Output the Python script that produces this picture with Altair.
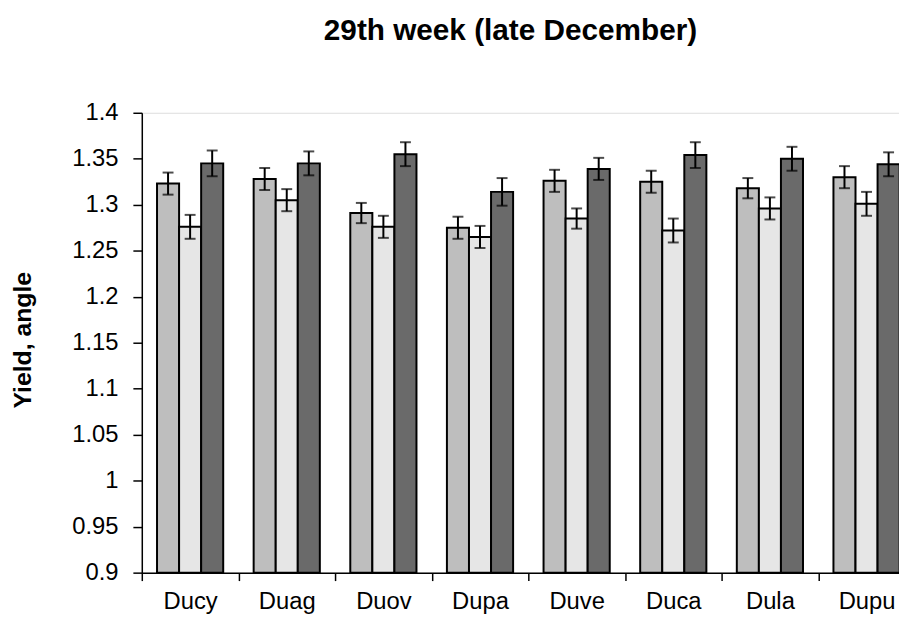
import altair as alt
import pandas as pd

categories = ["Ducy", "Duag", "Duov", "Dupa", "Duve", "Duca", "Dula", "Dupu"]
series = ["S1", "S2", "S3"]
s1_mean = [1.323, 1.328, 1.291, 1.275, 1.326, 1.325, 1.318, 1.330]
s2_mean = [1.276, 1.305, 1.276, 1.265, 1.285, 1.272, 1.296, 1.301]
s3_mean = [1.345, 1.345, 1.355, 1.314, 1.339, 1.354, 1.350, 1.344]
s1_err = [0.012, 0.012, 0.011, 0.012, 0.012, 0.012, 0.011, 0.012]
s2_err = [0.013, 0.012, 0.012, 0.012, 0.011, 0.013, 0.012, 0.013]
s3_err = [0.014, 0.013, 0.013, 0.015, 0.012, 0.014, 0.013, 0.013]
baseline = 0.9
y_ticks = [0.9, 0.95, 1.0, 1.05, 1.1, 1.15, 1.2, 1.25, 1.3, 1.35, 1.4]
fills = ["#bebebe", "#e6e6e6", "#6a6a6a"]

rows = []
for s, means, errs in zip(series, [s1_mean, s2_mean, s3_mean], [s1_err, s2_err, s3_err]):
    for c, m, e in zip(categories, means, errs):
        rows.append({"cat": c, "series": s, "mean": m, "lo": m - e, "hi": m + e, "base": baseline})
df = pd.DataFrame(rows)

FONT = "Liberation Sans"

x = alt.X("cat:N", sort=categories, title=None,
          scale=alt.Scale(range=[0, 780], paddingInner=0, paddingOuter=0),
          axis=alt.Axis(labelAngle=0, tickBand="extent", tickSize=8, tickColor="black",
                        domainColor="black", domainWidth=1.5, tickWidth=1.5,
                        labelFont=FONT, labelFontSize=24, labelColor="black", labelPadding=9))
xo = alt.XOffset("series:N", sort=series,
                 scale=alt.Scale(paddingOuter=0.69, paddingInner=0))
yscale = alt.Scale(domain=[0.9, 1.4], zero=False, nice=False)

base = alt.Chart(df)

bars = base.mark_bar(stroke="black", strokeWidth=2).encode(
    x=x, xOffset=xo,
    y=alt.Y("mean:Q", scale=yscale, title="Yield, angle",
            axis=alt.Axis(values=y_ticks, labelExpr="format(datum.value, '~g')",
                          grid=False, tickSize=9, tickColor="black", tickWidth=1.5,
                          domainColor="black", domainWidth=1.5,
                          labelFont=FONT, labelFontSize=24, labelColor="black", labelPadding=15,
                          titleFont=FONT, titleFontSize=25, titleFontWeight="bold", titleColor="black",
                          titleX=-120, titleY=229, titleAngle=-90, titleAlign="center",
                          titleBaseline="middle")),
    y2=alt.Y2("base:Q"),
    color=alt.Color("series:N", sort=series, legend=None,
                    scale=alt.Scale(domain=series, range=fills)),
)

rules = base.mark_rule(color="black", strokeWidth=2).encode(
    x=x, xOffset=xo, y=alt.Y("lo:Q", scale=yscale), y2="hi:Q")
cap_hi = base.mark_tick(color="black", thickness=2, size=11, orient="horizontal").encode(
    x=x, xOffset=xo, y=alt.Y("hi:Q", scale=yscale))
cap_lo = base.mark_tick(color="black", thickness=2, size=11, orient="horizontal").encode(
    x=x, xOffset=xo, y=alt.Y("lo:Q", scale=yscale))

chart = alt.layer(bars, rules, cap_hi, cap_lo).properties(
    width=764, height=464,
    title=alt.TitleParams("29th week (late December)", font=FONT, fontSize=30, fontWeight="bold",
                          color="black", anchor="middle", frame="group", dx=-10, offset=55),
    autosize=alt.AutoSizeParams(type="none"),
    padding={"left": 135, "top": 103, "right": 0, "bottom": 40},
).configure_view(stroke=None).configure(background="white")

chart.save("out.html", embed_options={"renderer": "svg", "actions": False})
